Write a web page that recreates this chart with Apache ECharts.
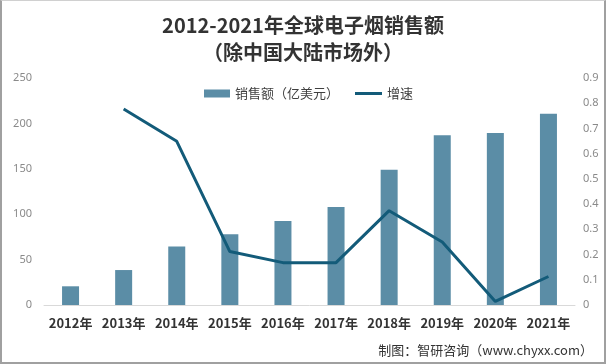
<!DOCTYPE html>
<html><head><meta charset="utf-8">
<script src="https://cdn.jsdelivr.net/npm/echarts@6/dist/echarts.min.js"></script>
<style>
html,body{margin:0;padding:0;background:#fff;}
#c{width:606px;height:364px;box-sizing:border-box;border:2px solid #a0a0a0;border-top:1px solid #d0d0d0;}
</style></head>
<body><div id="c"></div>
<script>
const categories = ['2012年','2013年','2014年','2015年','2016年','2017年','2018年','2019年','2020年','2021年'];
const sales = [20.6, 38.5, 64.5, 78, 92.5, 108, 149, 187, 189.5, 210.5];
const growth = [null, 0.777, 0.649, 0.212, 0.168, 0.168, 0.374, 0.25, 0.014, 0.113];
const leftTicks = {min:0, max:250, interval:50};
const rightTicks = {min:0, max:0.9, interval:0.1};

const chart = echarts.init(document.getElementById('c'), null, {renderer:'canvas'});
const legendText = {fontFamily:'Noto Sans CJK SC', fontSize:13, color:'#404040'};
chart.setOption({
  backgroundColor:'#fff',
  animation:false,
  title:{
    text:'2012-2021年全球电子烟销售额\n（除中国大陆市场外）',
    left:'center', top:6,
    textStyle:{fontFamily:'Noto Sans CJK SC', fontSize:20, fontWeight:'bold', color:'#333', lineHeight:27}
  },
  legend:[
    {top:81, left:197, textStyle:legendText, data:[{name:'销售额（亿美元）', icon:'rect'}],
     itemWidth:26, itemHeight:8},
    {top:81, left:348, textStyle:legendText, data:[{name:'增速', icon:'rect'}],
     itemWidth:27, itemHeight:3}
  ],
  grid:{left:42, right:29, top:77, bottom:57, containLabel:false},
  xAxis:{
    type:'category', data:categories,
    axisLine:{show:true, lineStyle:{color:'#d9d9d9', width:1}},
    axisTick:{show:false},
    axisLabel:{interval:0, fontFamily:'Noto Sans CJK SC', fontSize:13, fontWeight:'bold', color:'#333', margin:12}
  },
  yAxis:[
    {type:'value', min:leftTicks.min, max:leftTicks.max, interval:leftTicks.interval,
     splitLine:{show:false}, axisLine:{show:false}, axisTick:{show:false},
     axisLabel:{fontFamily:'Noto Sans', fontSize:11, color:'#8a8a8a', margin:12}},
    {type:'value', min:rightTicks.min, max:rightTicks.max, interval:rightTicks.interval,
     splitLine:{show:false}, axisLine:{show:false}, axisTick:{show:false},
     axisLabel:{fontFamily:'Noto Sans', fontSize:11, color:'#8a8a8a', margin:8,
       formatter:v=>String(Math.round(v*10)/10)}}
  ],
  series:[
    {name:'销售额（亿美元）', type:'bar', data:sales, barWidth:17, yAxisIndex:0,
     itemStyle:{color:'#5b8da6'}},
    {name:'增速', type:'line', data:growth, yAxisIndex:1, symbol:'none', connectNulls:false,
     lineStyle:{color:'#135b79', width:3}, itemStyle:{color:'#135b79'}}
  ],
  graphic:[{
    type:'text', right:11, top:343,
    style:{text:'制图：智研咨询（www.chyxx.com）', fontFamily:'Noto Sans CJK SC', fontSize:13, fill:'#333'}
  }]
});
</script></body></html>
